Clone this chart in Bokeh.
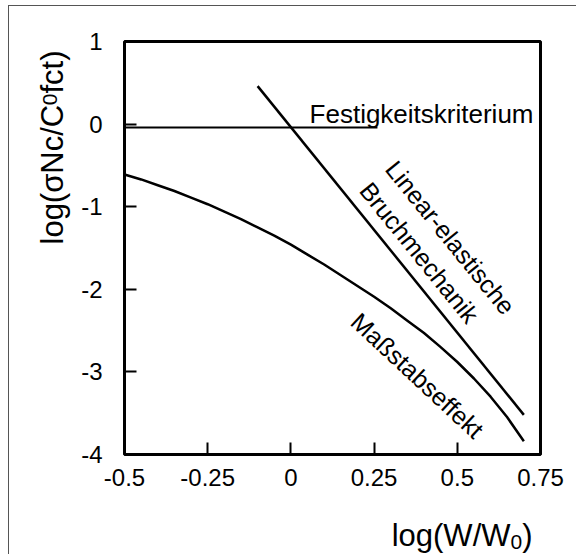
import math
from bokeh.plotting import figure
from bokeh.models import Range1d, FixedTicker, Label
from bokeh.embed import file_html
from bokeh.resources import INLINE

# ---- data ----
x_ticks = [-0.5, -0.25, 0, 0.25, 0.5, 0.75]
x_tick_labels = ["-0.5", "-0.25", "0", "0.25", "0.5", "0.75"]
y_ticks = [-4, -3, -2, -1, 0, 1]
y_tick_labels = ["-4", "-3", "-2", "-1", "0", "1"]

# Festigkeitskriterium (strength criterion)
strength_x = [-0.5, 0.26]
strength_y = [-0.04, -0.04]

# Linear-elastische Bruchmechanik
lefm_x = [-0.1, 0.7]
lefm_y = [0.46, -3.52]

# Maßstabseffekt (size effect curve)
size_x = [-0.5, -0.45, -0.4, -0.35, -0.3, -0.25, -0.2, -0.15, -0.1, -0.05, 0.0,
          0.05, 0.1, 0.15, 0.2, 0.25, 0.3, 0.35, 0.4, 0.45, 0.5, 0.55, 0.6, 0.65, 0.7]
size_y = [-0.61, -0.67, -0.74, -0.81, -0.89, -0.97, -1.06, -1.15, -1.25, -1.35, -1.46,
          -1.58, -1.70, -1.83, -1.96, -2.09, -2.23, -2.38, -2.53, -2.70, -2.88, -3.08,
          -3.30, -3.55, -3.84]

FONT = "Liberation Sans"
PAGE_W, PAGE_H = 577, 555

# ---- main chart ----
OX, OY = 9, 6            # page position of the canvas (margin + border)
W, H = PAGE_W - OX, PAGE_H - OY
F_LEFT, F_TOP, F_W, F_H = 124 - OX, 41 - OY, 416, 413

p = figure(width=W, height=H, output_backend="svg", toolbar_location=None,
           x_range=Range1d(-0.5, 0.75), y_range=Range1d(-4, 1),
           min_border_left=F_LEFT, min_border_top=F_TOP,
           min_border_right=W - F_LEFT - F_W, min_border_bottom=H - F_TOP - F_H)
p.styles = {"margin-left": "8px", "margin-top": "5px",
            "border-left": "1px solid #555", "border-top": "1px solid #555"}
p.grid.visible = False
p.outline_line_color = "black"
p.outline_line_width = 3
p.background_fill_color = "white"
p.border_fill_color = "white"

for ax, ticks, labels in ((p.xaxis, x_ticks, x_tick_labels), (p.yaxis, y_ticks, y_tick_labels)):
    ax.ticker = FixedTicker(ticks=ticks)
    ax.major_label_overrides = {t: l for t, l in zip(ticks, labels)}
    ax.minor_tick_line_color = None
    ax.axis_line_color = None
    ax.major_tick_in = 12
    ax.major_tick_out = 0
    ax.major_tick_line_width = 2
    ax.major_tick_line_color = "black"
    ax.major_label_text_font = FONT
    ax.major_label_text_font_size = "24px"
    ax.major_label_text_color = "black"
p.xaxis.major_label_standoff = 14
p.yaxis.major_label_standoff = 22

p.line(strength_x, strength_y, line_color="black", line_width=2)
p.line(lefm_x, lefm_y, line_color="black", line_width=2.5)
p.line(size_x, size_y, line_color="black", line_width=2.5, line_join="round")

# conversion helpers for annotation placement (page px -> data)
XS = F_W / 1.25
YS = F_H / 5.0
def dx(px):
    return -0.5 + (px - (OX + F_LEFT)) / XS
def dy(py):
    return 1 - (py - (OY + F_TOP)) / YS

def lab(fig, text, x, y, size, angle=0.0, align="center", baseline="middle"):
    fig.add_layout(Label(x=x, y=y, text=text, angle=angle, text_font=FONT,
                         text_font_size=f"{size}px", text_color="black",
                         text_align=align, text_baseline=baseline))

# curve annotations (inside the frame)
lab(p, "Festigkeitskriterium", dx(533), dy(113), 26, align="right", baseline="alphabetic")
lab(p, "Linear-elastische", dx(450), dy(237), 25, angle=-0.89)
lab(p, "Bruchmechanik", dx(419), dy(252), 25, angle=-0.89)
lab(p, "Maßstabseffekt", dx(417), dy(375), 25, angle=-0.75)

# ---- overlay canvas for the axis titles (page pixel coordinates) ----
q = figure(width=PAGE_W, height=PAGE_H, output_backend="svg", toolbar_location=None,
           x_range=Range1d(0, PAGE_W), y_range=Range1d(0, PAGE_H),
           x_axis_type=None, y_axis_type=None,
           min_border_left=0, min_border_right=0, min_border_top=0, min_border_bottom=0)
q.outline_line_color = None
q.background_fill_color = None
q.border_fill_color = None
q.grid.visible = False
q.styles = {"position": "absolute", "left": "0px", "top": "0px", "pointer-events": "none"}

AW = {'l': .222, 'o': .556, 'g': .556, '(': .333, ')': .333, 'W': .944, '/': .278,
      '0': .556, 'σ': .604, 'N': .722, 'c': .5, 'C': .722, 'f': .278, 't': .278}
def tw(s, size):
    return sum(AW[ch] for ch in s) * size

MAIN, SUB = 31, 21

# x axis title: log(W/W0)
xparts = [("log(W/W", MAIN, 0), ("0", SUB, 6), (")", MAIN, 0)]
total = sum(tw(s, sz) for s, sz, _ in xparts)
cx = 532 - total
for s, sz, shift in xparts:
    lab(q, s, cx, PAGE_H - (535 + shift), sz, align="left", baseline="alphabetic")
    cx += tw(s, sz)

# y axis title: log(sigma_Nc / C_0 f_ct), rotated
yparts = [("log(σNc/C", MAIN, 0), ("0", SUB, -3), ("fct)", MAIN, 0)]
cy = 244
for s, sz, shift in yparts:
    lab(q, s, 52 + shift, PAGE_H - cy, sz, angle=math.pi / 2, align="left", baseline="alphabetic")
    cy -= tw(s, sz)

open("out.html", "w").write(file_html([p, q], INLINE))
